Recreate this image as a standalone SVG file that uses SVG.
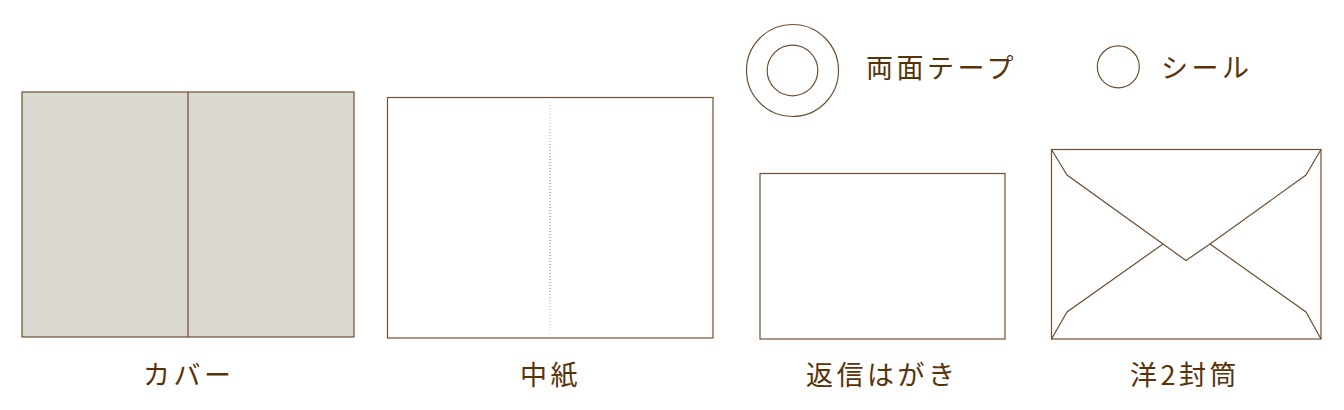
<svg xmlns="http://www.w3.org/2000/svg" width="1344" height="410" viewBox="0 0 1344 410">
<defs>
<style>
.ln{fill:none;stroke:#6e4f31;stroke-width:1.2}
.pp{fill:#ffffff;stroke:#6e4f31;stroke-width:1.2}
.cv{fill:#dbd8d1;stroke:#6e4f31;stroke-width:1.2}
.lb{font-family:"Noto Sans CJK JP","Noto Sans",sans-serif;font-size:27px;fill:#5a3208;letter-spacing:3.5px}
</style>
<linearGradient id="fade" gradientUnits="userSpaceOnUse" x1="0" y1="102" x2="0" y2="334">
<stop offset="0" stop-color="#8a6f55" stop-opacity="0.3"/>
<stop offset="0.25" stop-color="#8a6f55" stop-opacity="1"/>
<stop offset="0.75" stop-color="#8a6f55" stop-opacity="1"/>
<stop offset="1" stop-color="#8a6f55" stop-opacity="0.3"/>
</linearGradient>
</defs>
<rect width="1344" height="410" fill="#ffffff"/>
<g id="cover">
<rect class="cv" x="22" y="92" width="332" height="245"/>
<line class="ln" x1="188" y1="92" x2="188" y2="337"/>
<text class="lb" x="143" y="384.5">カバー</text>
</g>
<g id="inner-paper">
<rect class="pp" x="387.5" y="97.5" width="325.5" height="240.5"/>
<line x1="550" y1="102" x2="550" y2="334" stroke="url(#fade)" stroke-width="1" stroke-dasharray="1 2"/>
<text class="lb" x="520" y="384.5">中紙</text>
</g>
<g id="tape">
<circle class="ln" cx="792.5" cy="70.5" r="46"/>
<circle class="ln" cx="792.5" cy="70.5" r="25.3"/>
<text class="lb" x="866" y="78">両面テープ</text>
</g>
<g id="seal">
<circle class="ln" cx="1118.3" cy="66.8" r="21"/>
<text class="lb" x="1161" y="78">シール</text>
</g>
<g id="postcard">
<rect class="pp" x="760" y="173.5" width="245" height="165.5"/>
<text class="lb" x="806" y="384.5">返信はがき</text>
</g>
<g id="envelope">
<rect class="pp" x="1051.5" y="149.5" width="269.5" height="189.5"/>
<polyline class="ln" points="1051.5,149.5 1067,175 1163,244 1186,260.5 1210,244 1306,175 1321,149.5"/>
<polyline class="ln" points="1051.5,339 1067,312 1163,244"/>
<polyline class="ln" points="1321,339 1306,312 1210,244"/>
<text class="lb" x="1130" y="384.5">洋2封筒</text>
</g>
</svg>
